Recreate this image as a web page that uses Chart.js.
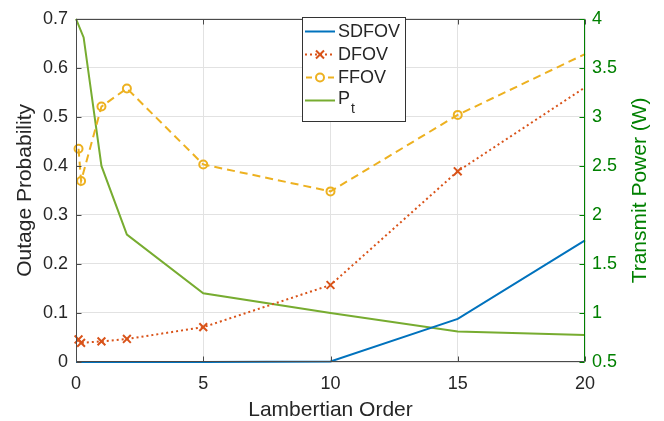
<!DOCTYPE html>
<html><head><meta charset="utf-8">
<script src="https://cdn.jsdelivr.net/npm/chart.js@4.4.1/dist/chart.umd.min.js"></script>
<style>html,body{margin:0;padding:0;background:#fff}#wrap{width:664px;height:421px;position:relative}</style>
</head><body><div id="wrap"><canvas id="c"></canvas></div>
<script>
// ---- data ----
const markerOrder   = [0.1, 0.2, 1, 2, 5, 10, 15, 20];
const sdfovOrder    = [0, 0.2, 1, 2, 5, 10, 15, 20];
const sdfov         = [0, 0, 0, 0, 0, 0.001, 0.088, 0.248];
const dfov          = [0.046, 0.039, 0.042, 0.047, 0.071, 0.157, 0.389, 0.560];
const ffov          = [0.435, 0.369, 0.521, 0.558, 0.403, 0.348, 0.504, 0.628];
const ptOrder       = [0, 0.3, 1, 2, 5, 10, 15, 20];
const transmitPower = [4.0, 3.81, 2.5, 1.8, 1.2, 1.0, 0.81, 0.775];
const xTicks     = [0, 5, 10, 15, 20];
const leftTicks  = [0, 0.1, 0.2, 0.3, 0.4, 0.5, 0.6, 0.7];
const rightTicks = [0.5, 1, 1.5, 2, 2.5, 3, 3.5, 4];
const seriesNames = ['SDFOV', 'DFOV', 'FFOV', 'P'];
const rightTitle = 'Transmit Power (W)';

const FONT = "'Liberation Sans', Arial, Helvetica, sans-serif";
const DARK = '#262626';
const GREEN = '#008000';
const C_SD = '#0072BD', C_D = '#D95319', C_F = '#EDB120', C_P = '#77AC30';

const pts = (xs, ys) => xs.map((x, i) => ({x, y: ys[i]}));
const markerSize = r => c => (c.raw && c.raw.x >= 20 ? 0 : r);

const framePlugin = {
  id: 'frame',
  afterDatasetsDraw(chart) {
    const {ctx, chartArea: a, scales: {x, y, y1}} = chart;
    ctx.save();
    ctx.lineWidth = 1;
    const seg = (x1, y1_, x2, y2) => { ctx.beginPath(); ctx.moveTo(x1, y1_); ctx.lineTo(x2, y2); ctx.stroke(); };
    const L = Math.round(a.left) + 0.5, R = Math.round(a.right) - 0.5;
    const T = Math.round(a.top) + 0.5, B = Math.round(a.bottom) - 0.5;
    ctx.strokeStyle = '#4a4a4a';
    seg(L, T, R, T); seg(L, B, R, B); seg(L, T, L, B);
    xTicks.forEach(v => {
      const px = Math.round(x.getPixelForValue(v)) + 0.5;
      seg(px, B, px, B - 5); seg(px, T, px, T + 5);
    });
    leftTicks.forEach(v => {
      const py = Math.round(y.getPixelForValue(v)) + 0.5;
      seg(L, py, L + 5, py);
    });
    ctx.strokeStyle = GREEN;
    seg(R, T, R, B);
    rightTicks.forEach(v => {
      const py = Math.round(y1.getPixelForValue(v)) + 0.5;
      seg(R, py, R - 5, py);
    });
    // right axis title, reading bottom-to-top
    ctx.fillStyle = GREEN;
    ctx.font = '21px ' + FONT;
    ctx.textAlign = 'center';
    ctx.textBaseline = 'middle';
    ctx.translate(640, (a.top + a.bottom) / 2);
    ctx.rotate(-Math.PI / 2);
    ctx.fillText(rightTitle, 0, 0);
    ctx.restore();
  },
  afterDraw(chart) {
    const {ctx} = chart;
    ctx.save();
    const bx = 302.5, by = 17.5, bw = 103, bh = 104;
    ctx.fillStyle = '#fff';
    ctx.fillRect(bx, by, bw, bh);
    ctx.strokeStyle = '#333';
    ctx.lineWidth = 1;
    ctx.strokeRect(bx, by, bw, bh);
    const rows = [31.5, 54.5, 77.5, 100.5];
    const x1 = 305, x2 = 335, cx = 320, tx = 338;
    ctx.lineWidth = 2;
    ctx.strokeStyle = C_SD; ctx.setLineDash([]);
    ctx.beginPath(); ctx.moveTo(x1, rows[0]); ctx.lineTo(x2, rows[0]); ctx.stroke();
    ctx.strokeStyle = C_D; ctx.setLineDash([2, 3]);
    ctx.beginPath(); ctx.moveTo(x1, rows[1]); ctx.lineTo(x2, rows[1]); ctx.stroke();
    ctx.setLineDash([]);
    ctx.beginPath();
    ctx.moveTo(cx - 4, rows[1] - 4); ctx.lineTo(cx + 4, rows[1] + 4);
    ctx.moveTo(cx - 4, rows[1] + 4); ctx.lineTo(cx + 4, rows[1] - 4);
    ctx.stroke();
    ctx.strokeStyle = C_F; ctx.setLineDash([6, 5]);
    ctx.beginPath(); ctx.moveTo(x1 + 1, rows[2]); ctx.lineTo(x2, rows[2]); ctx.stroke();
    ctx.setLineDash([]);
    ctx.fillStyle = '#fff';
    ctx.beginPath(); ctx.arc(cx, rows[2], 4, 0, Math.PI * 2); ctx.fill(); ctx.stroke();
    ctx.strokeStyle = C_P;
    ctx.beginPath(); ctx.moveTo(x1, rows[3]); ctx.lineTo(x2, rows[3]); ctx.stroke();
    ctx.fillStyle = DARK;
    ctx.textBaseline = 'middle';
    ctx.textAlign = 'left';
    ctx.font = '18px ' + FONT;
    for (let i = 0; i < 3; i++) ctx.fillText(seriesNames[i], tx, rows[i] + 1);
    ctx.fillText(seriesNames[3], tx, rows[3] - 1);
    const pw = ctx.measureText(seriesNames[3]).width;
    ctx.font = '14px ' + FONT;
    ctx.fillText('t', tx + pw + 1, rows[3] + 9);
    ctx.restore();
  }
};

new Chart(document.getElementById('c'), {
  type: 'line',
  data: {
    datasets: [
      {label: seriesNames[0], data: pts(sdfovOrder, sdfov), yAxisID: 'y',
       borderColor: C_SD, borderWidth: 2, pointRadius: 0, clip: false},
      {label: seriesNames[1], data: pts(markerOrder, dfov), yAxisID: 'y',
       borderColor: C_D, borderWidth: 2, borderDash: [2, 3], pointStyle: 'crossRot',
       pointRadius: markerSize(5.5), pointBorderWidth: 2, pointBorderColor: C_D, pointBackgroundColor: C_D, clip: false},
      {label: seriesNames[2], data: pts(markerOrder, ffov), yAxisID: 'y',
       borderColor: C_F, borderWidth: 2, borderDash: [8, 5], pointStyle: 'circle',
       pointRadius: markerSize(4), pointBorderWidth: 2, pointBorderColor: C_F, pointBackgroundColor: 'rgba(255,255,255,0)', clip: false},
      {label: 'Pt', data: pts(ptOrder, transmitPower), yAxisID: 'y1',
       borderColor: C_P, borderWidth: 2, pointRadius: 0, clip: false}
    ]
  },
  options: {
    responsive: true,
    maintainAspectRatio: false,
    animation: false,
    events: [],
    layout: {padding: {top: 18, left: 0, right: 0, bottom: 0}},
    elements: {line: {tension: 0}},
    plugins: {legend: {display: false}, tooltip: {enabled: false}},
    scales: {
      x: {
        type: 'linear', position: 'bottom', min: 0, max: 20,
        afterBuildTicks: s => { s.ticks = xTicks.map(v => ({value: v})); },
        afterFit: s => { s.height = 59; },
        grid: {color: '#e2e2e2', drawTicks: false, lineWidth: 1},
        border: {display: false},
        ticks: {font: {family: FONT, size: 18}, color: DARK, padding: 11, maxRotation: 0,
                callback: v => String(v)},
        title: {display: true, text: 'Lambertian Order', color: DARK,
                font: {family: FONT, size: 21}, padding: {top: 0, bottom: -2}}
      },
      y: {
        type: 'linear', position: 'left', min: 0, max: 0.7,
        afterBuildTicks: s => { s.ticks = leftTicks.map(v => ({value: v})); },
        afterFit: s => { s.width = 76; },
        grid: {color: '#e2e2e2', drawTicks: false, lineWidth: 1},
        border: {display: false},
        ticks: {font: {family: FONT, size: 18}, color: DARK, padding: 8, callback: v => String(v)},
        title: {display: true, text: 'Outage Probability', color: DARK,
                font: {family: FONT, size: 21}, padding: {top: 13, bottom: 0}}
      },
      y1: {
        type: 'linear', position: 'right', min: 0.5, max: 4,
        afterBuildTicks: s => { s.ticks = rightTicks.map(v => ({value: v})); },
        afterFit: s => { s.width = 79; },
        grid: {display: false, drawTicks: false},
        border: {display: false},
        ticks: {font: {family: FONT, size: 18}, color: GREEN, padding: 7, callback: v => String(v)},
        title: {display: false}
      }
    }
  },
  plugins: [framePlugin]
});
</script>
</body></html>
